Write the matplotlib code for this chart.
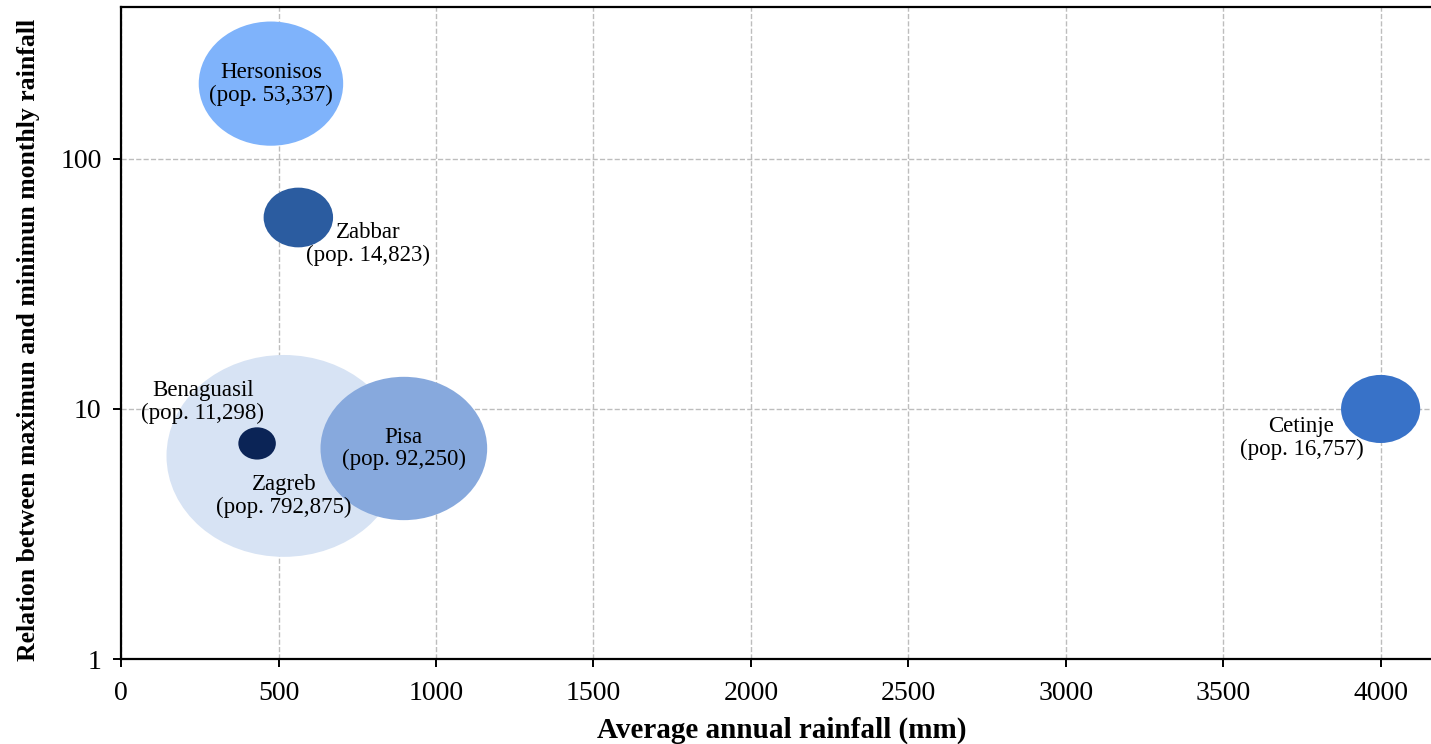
import matplotlib
matplotlib.use("Agg")
import matplotlib.pyplot as plt
from matplotlib.path import Path
from matplotlib.transforms import Affine2D

plt.rcParams['font.family'] = ['Liberation Serif', 'DejaVu Serif']

# City data
cities = ['Hersonisos', 'Zabbar', 'Benaguasil', 'Zagreb', 'Pisa', 'Cetinje']
population = ['53,337', '14,823', '11,298', '792,875', '92,250', '16,757']
annual_rainfall = [476, 563, 432, 517, 898, 4000]
max_min_ratio = [200, 58.3, 7.28, 6.49, 6.95, 10]
bubble_size = [104, 50, 27, 169, 120, 57]  # marker width in points

colors = ['#7fb3fb', '#2b5ca0', '#0b2456', '#d7e3f4', '#87a9dd', '#3872c8']
# draw order so the big Zagreb bubble sits underneath the others
zorders = [3, 3, 4, 2, 3, 3]
label_offsets = [(0, 0), (50, -19), (-39, 30), (0, -29), (0, 0), (-57, -21)]

# slightly flattened ellipse marker
ellipse = Path.unit_circle().transformed(Affine2D().scale(1.0, 0.86))

fig = plt.figure(figsize=(14.31, 7.44), dpi=100)
ax = fig.add_axes([0.0846, 0.1142, 0.9154, 0.8764])

for i in range(len(cities)):
    ax.scatter(annual_rainfall[i], max_min_ratio[i], s=bubble_size[i] ** 2,
               marker=ellipse, color=colors[i], edgecolors='none',
               zorder=zorders[i])
    ax.annotate(f'{cities[i]}\n(pop. {population[i]})',
                (annual_rainfall[i], max_min_ratio[i]),
                xytext=label_offsets[i], textcoords='offset points',
                ha='center', va='center', multialignment='center',
                fontsize=16.5, linespacing=1.1, zorder=6)

ax.set_yscale('log')
ax.set_xlim(0, 4160)
ax.set_ylim(1, 405)
ax.set_xticks(range(0, 4001, 500))
ax.set_yticks([1, 10, 100])
ax.set_yticklabels(['1', '10', '100'])
ax.minorticks_off()

ax.grid(True, which='major', linestyle='--', color='#bdbdbd', linewidth=1)
ax.set_axisbelow(True)

for side in ['left', 'bottom', 'top']:
    ax.spines[side].set_linewidth(1.6)
    ax.spines[side].set_color('black')
ax.spines['right'].set_visible(False)

ax.tick_params(axis='both', direction='out', length=6, width=1.4,
               labelsize=20)
ax.tick_params(axis='x', pad=10)
ax.tick_params(axis='y', pad=8)

ax.set_xlabel('Average annual rainfall (mm)', fontsize=21, fontweight='bold')
ax.xaxis.set_label_coords(0.5046, -0.088)
ax.set_ylabel('Relation between maximun and minimun monthly rainfall',
              fontsize=18.5, fontweight='bold')
ax.yaxis.set_label_coords(-0.062, 0.489)

fig.savefig('out.png', dpi=100)
